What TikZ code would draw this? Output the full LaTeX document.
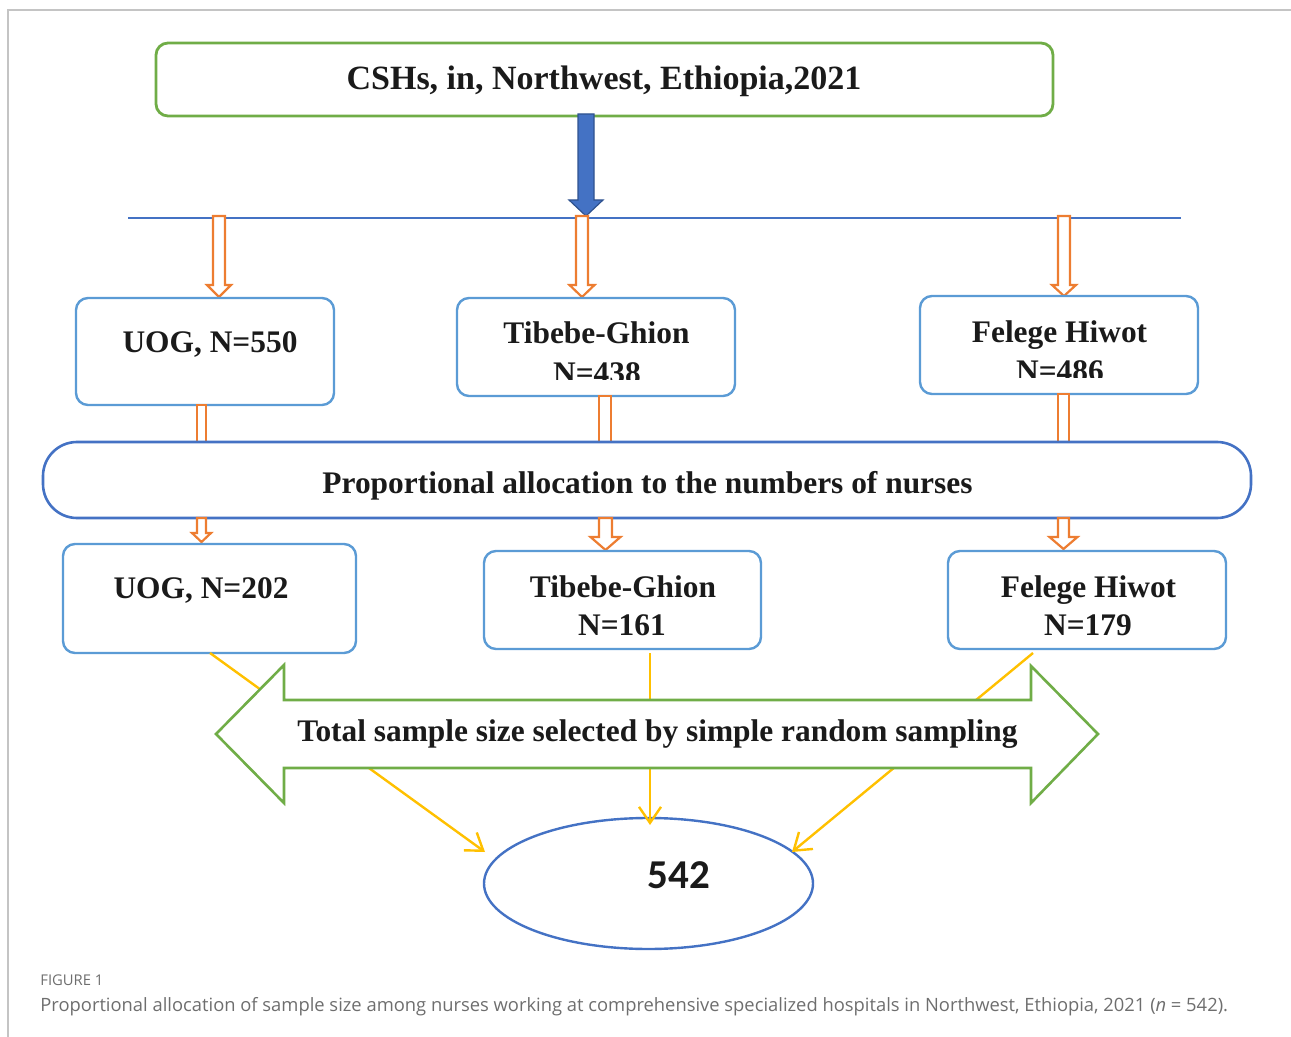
\documentclass[tikz,border=0pt]{standalone}
\usepackage{fontspec}
\setmainfont{Liberation Serif}
\newfontfamily\calibfont{Carlito}
\newfontfamily\capfont{Open Sans}
\usetikzlibrary{arrows.meta,shapes.geometric}
\definecolor{grn}{HTML}{70AD47}
\definecolor{boxblue}{HTML}{5B9BD5}
\definecolor{dblue}{HTML}{4472C4}
\definecolor{ddblue}{HTML}{2F528F}
\definecolor{orng}{HTML}{ED7D31}
\definecolor{yel}{HTML}{FFC000}
\definecolor{ink}{HTML}{1A1A1A}
\definecolor{capgray}{HTML}{6E6E6E}
\definecolor{frame}{HTML}{C4C4C4}
\newcommand\oarrow[6]{%
  \draw[oline] ({#1-#5},#2) -- ({#1-#5},#3) -- ({#1-#6},#3) -- (#1,#4) -- ({#1+#6},#3) -- ({#1+#5},#3) -- ({#1+#5},#2) -- cycle;}
\begin{document}
\begin{tikzpicture}[x=0.5pt,y=-0.5pt,
  bluebox/.style={draw=boxblue,line width=1.2pt,rounded corners=6pt,fill=white,inner sep=0pt},
  lbl/.style={anchor=base,font=\bfseries\fontsize{15.7}{18}\selectfont,text=ink,inner sep=0pt},
  oline/.style={draw=orng,fill=white,line width=1.1pt,line join=miter},
  yline/.style={draw=yel,line width=1.2pt,-{Straight Barb[length=8pt,width=11pt]}},
  ]
\useasboundingbox (0,0) rectangle (1291,1037);
% frame
\draw[frame,line width=0.6pt] (8,1037) -- (8,10) -- (1291,10);

% top box
\node[draw=grn,line width=1.4pt,rounded corners=6pt,minimum width=448.5pt,minimum height=36.5pt,inner sep=0pt] (top) at (604.5,79.5) {};
\node[anchor=base,font=\bfseries\fontsize{17}{20}\selectfont,text=ink,inner sep=0pt] (toptxt) at (604,90) {CSHs, in, Northwest, Ethiopia,2021};

% horizontal line
\coordinate (hl) at (128,218);
\coordinate (hr) at (1181,218);
\draw[dblue,line width=1.3pt] (hl) -- (hr);

% big blue arrow
\draw[fill=dblue,draw=ddblue,line width=0.6pt] (578,114) -- (578,200) -- (569,200) -- (586,216) -- (603,200) -- (594,200) -- (594,114) -- cycle;

% top orange arrows
\oarrow{219}{216}{285}{297}{6}{12}
\oarrow{582}{216}{285}{297}{6}{12.5}
\oarrow{1064}{216}{285}{296}{6}{12}

% first row boxes
\node[bluebox,minimum width=129pt,minimum height=53.5pt] (b1) at (205,351.5) {};
\node[lbl] (b1t) at (210,353) {UOG, N=550};
\node[bluebox,minimum width=139pt,minimum height=49pt] (b2) at (596,347) {};
\node[lbl] (b2t) at (596.5,344) {Tibebe-Ghion};
\begin{scope}
  \clip (457,298) rectangle (735,380);
  \node[lbl] (b2n) at (597,384) {N=438};
\end{scope}
\node[bluebox,minimum width=139pt,minimum height=49pt] (b3) at (1059,345) {};
\node[lbl] (b3t) at (1059.5,343) {Felege Hiwot};
\begin{scope}
  \clip (920,296) rectangle (1198,378);
  \node[lbl] (b3n) at (1060,381.5) {N=486};
\end{scope}

% connecting shafts
\draw[oline] (197,405) rectangle (206,443);
\draw[oline] (599,396) rectangle (611,443);
\draw[oline] (1058,394) rectangle (1069,443);

% proportional allocation
\node[draw=dblue,line width=1.3pt,rounded corners=17pt,minimum width=604pt,minimum height=38pt,inner sep=0pt,fill=white] (prop) at (647,480) {};
\node[lbl] (propt) at (647.5,494) {Proportional allocation to the numbers of nurses};

% lower orange arrows
\oarrow{201.5}{518}{533}{542}{4.5}{9.5}
\oarrow{605.5}{518}{537}{550}{6.5}{15}
\oarrow{1063.5}{518}{537}{549}{5.5}{14}

% second row boxes
\node[bluebox,minimum width=146.5pt,minimum height=54.5pt] (b4) at (209.5,598.5) {};
\node[lbl] (b4t) at (201,598) {UOG, N=202};
\node[bluebox,minimum width=138.5pt,minimum height=49pt] (b5) at (622.5,600) {};
\node[lbl] (b5t) at (623,597) {Tibebe-Ghion};
\node[lbl] (b5n) at (622,635) {N=161};
\node[bluebox,minimum width=139pt,minimum height=49pt] (b6) at (1087,600) {};
\node[lbl] (b6t) at (1088.5,597) {Felege Hiwot};
\node[lbl] (b6n) at (1088,635) {N=179};

% ellipse
\node[ellipse,draw=dblue,line width=1.2pt,minimum width=164.5pt,minimum height=65.5pt,inner sep=0pt] (res) at (648.5,883.5) {};
\node[anchor=base,font=\calibfont\bfseries\fontsize{20.5}{24}\selectfont,text=ink,inner sep=0pt] (rest) at (679,888) {542};

% yellow connectors
\coordinate (y1s) at (210,653);
\coordinate (y1e) at (485,852);
\coordinate (y2s) at (650,653);
\coordinate (y2e) at (650,825);
\coordinate (y3s) at (1033,653);
\coordinate (y3e) at (792,852);
\draw[yline] (y1s) -- (y1e);
\draw[yline] (y2s) -- (y2e);
\draw[yline] (y3s) -- (y3e);

% green double arrow
\draw[draw=grn,fill=white,line width=1.3pt,line join=miter] (216,734) -- (284,665) -- (284,700) -- (1031,700) -- (1031,666) -- (1098,734) -- (1031,803) -- (1031,768) -- (284,768) -- (284,803) -- cycle;
\node[lbl] (tot) at (657.5,741) {Total sample size selected by simple random sampling};

% caption
\node[anchor=base west,inner sep=0pt,font=\capfont\fontsize{7.4}{8}\selectfont,text=capgray] (fig) at (40,985) {FIGURE 1};
\node[anchor=base west,inner sep=0pt,font=\capfont\fontsize{9.18}{10}\selectfont,text=capgray] (cap) at (40,1011) {Proportional allocation of sample size among nurses working at comprehensive specialized hospitals in Northwest, Ethiopia, 2021 (\textit{n} = 542).};
\end{tikzpicture}
\end{document}
